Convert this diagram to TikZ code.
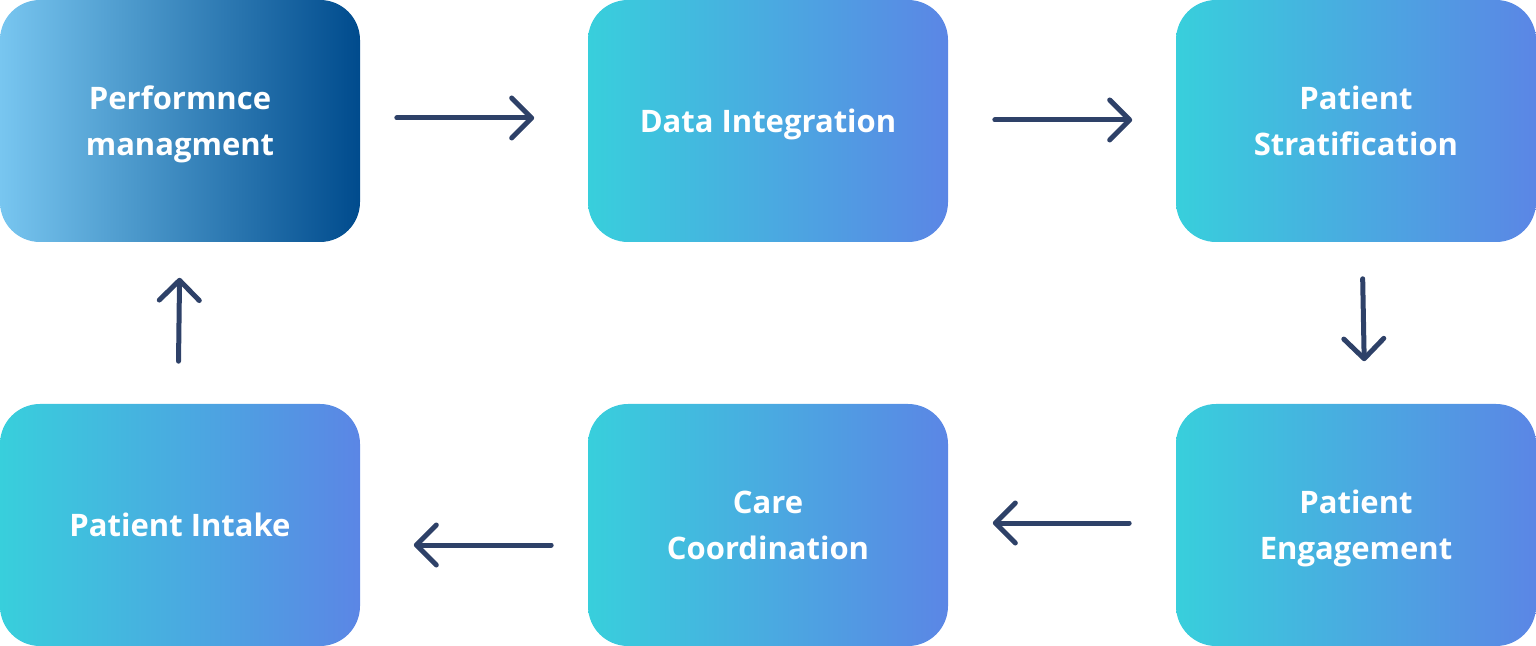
\documentclass[tikz,border=0pt]{standalone}
\usepackage{fontspec}
\setmainfont{Open Sans}
\usepackage{xcolor}
\usepackage{tikz}
\usetikzlibrary{positioning,arrows.meta}

\definecolor{flowtxt}{HTML}{2E4168}
\definecolor{tealL}{HTML}{38CFDC}
\definecolor{tealR}{HTML}{5B86E5}
\definecolor{skyL}{HTML}{78C6F0}
\definecolor{navyR}{HTML}{004B8D}

\begin{document}
\begin{tikzpicture}[x=0.5pt,y=-0.5pt,thick]
	\tikzstyle{stage}=[rectangle, rounded corners=20pt, draw=none,
		minimum width=180pt, minimum height=121pt, inner sep=0pt,
		left color=tealL, right color=tealR, text=white, align=center,
		text depth=0pt, font=\fontsize{15.5}{23}\selectfont\bfseries]
	\tikzstyle{flow}=[-{Straight Barb[length=10pt,width=20pt,round]},
		draw=flowtxt, line width=2.5pt, line cap=round]

	\useasboundingbox (0,0) rectangle (1536,646);

	\node[stage, left color=skyL, right color=navyR] (perf) at (180,121) {Performnce\\managment};
	\node[stage] (data)   at (768,121)  {Data Integration};
	\node[stage] (strat)  at (1356,121) {Patient\\Stratification};
	\node[stage] (engage) at (1356,525) {Patient\\Engagement};
	\node[stage] (care)   at (768,525)  {Care\\Coordination};
	\node[stage] (intake) at (180,525)  {Patient Intake};

	\draw[flow, shorten <=18pt, shorten >=26.5pt] ([yshift=1.5pt]perf.east) -- ([yshift=1.5pt]data.west);
	\draw[flow, shorten <=23pt, shorten >=21.5pt] ([yshift=0.5pt]data.east) -- ([yshift=0.5pt]strat.west);
	\draw[flow, shorten <=18pt, shorten >=21pt] ([xshift=3pt]strat.south) -- ([xshift=4.5pt]engage.north);
	\draw[flow, shorten <=23pt, shorten >=22pt] ([yshift=1pt]engage.west) -- ([yshift=1pt]care.east);
	\draw[flow, shorten <=18pt, shorten >=26.5pt] ([yshift=-10pt]care.west) -- ([yshift=-10pt]intake.east);
	\draw[flow, shorten <=21pt, shorten >=17.5pt] ([xshift=-1pt]intake.north) -- (perf.south);

\end{tikzpicture}
\end{document}
